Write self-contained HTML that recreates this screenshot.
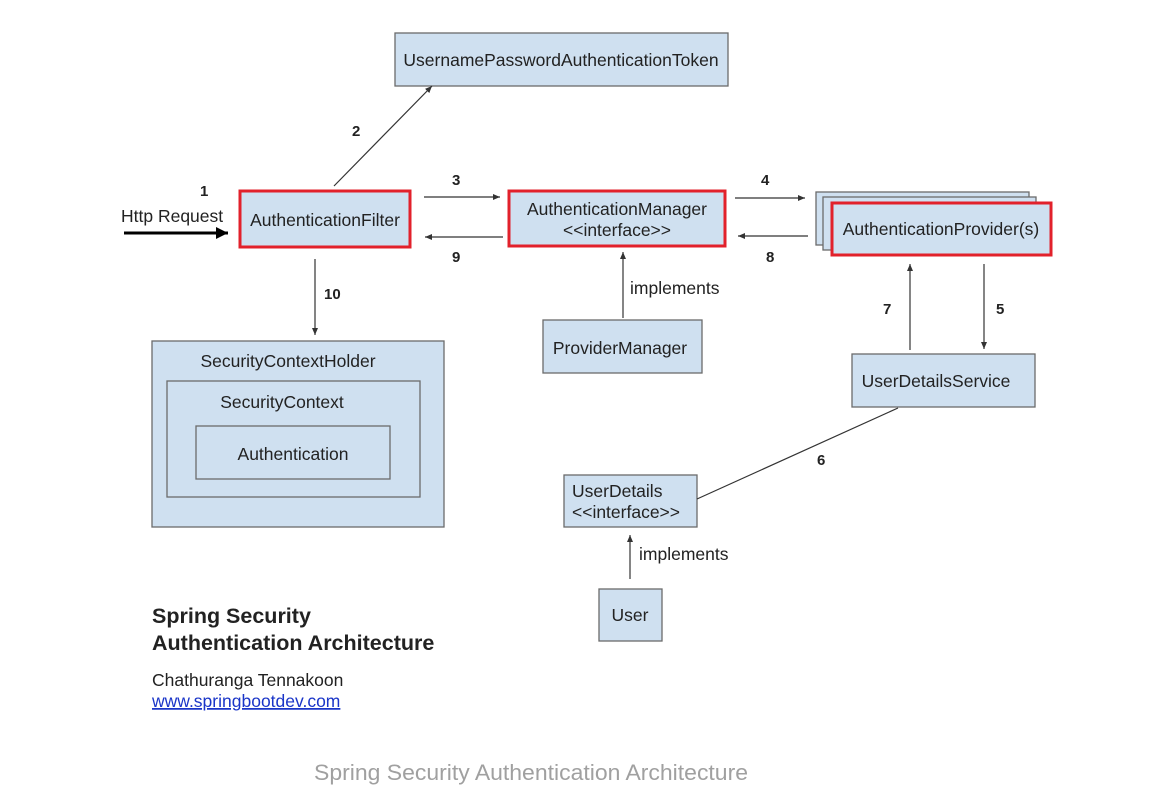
<!DOCTYPE html>
<html><head><meta charset="utf-8"><style>
html,body{margin:0;padding:0;background:#fff;}
svg{display:block;font-family:"Liberation Sans",Arial,sans-serif;}
.b{fill:#cfe0f0;stroke:#6b6b6b;stroke-width:1.3}
.r{fill:#cfe0f0;stroke:#e2212b;stroke-width:3}
.t{font-size:17.5px;fill:#222}
.n{font-size:15px;font-weight:bold;fill:#222}
.l{stroke:#333;stroke-width:1.2;fill:none}
</style></head><body>
<svg width="1159" height="806" viewBox="0 0 1159 806">
<defs><marker id="a" markerWidth="8" markerHeight="8" refX="7" refY="3" orient="auto" markerUnits="userSpaceOnUse"><path d="M0,0 L7,3 L0,6 z" fill="#333"/></marker>
<marker id="A" markerWidth="14" markerHeight="14" refX="12" refY="6" orient="auto" markerUnits="userSpaceOnUse"><path d="M0,0 L12,6 L0,12 z" fill="#000"/></marker></defs>

<rect class="b" x="395" y="33" width="333" height="53"/>
<text class="t" x="561" y="66" text-anchor="middle">UsernamePasswordAuthenticationToken</text>

<rect class="r" x="240" y="191" width="170" height="56"/>
<text class="t" x="325" y="226" text-anchor="middle">AuthenticationFilter</text>

<rect class="r" x="509" y="191" width="216" height="55"/>
<text class="t" x="617" y="215" text-anchor="middle">AuthenticationManager</text>
<text class="t" x="617" y="236" text-anchor="middle">&lt;&lt;interface&gt;&gt;</text>

<rect class="b" x="816" y="192" width="213" height="53"/>
<rect class="b" x="823" y="197" width="213" height="53"/>
<rect class="r" x="832" y="203" width="219" height="52"/>
<text class="t" x="941" y="235" text-anchor="middle">AuthenticationProvider(s)</text>

<rect class="b" x="543" y="320" width="159" height="53"/>
<text class="t" x="620" y="354" text-anchor="middle">ProviderManager</text>

<rect class="b" x="852" y="354" width="183" height="53"/>
<text class="t" x="936" y="387" text-anchor="middle">UserDetailsService</text>

<rect class="b" x="152" y="341" width="292" height="186"/>
<text class="t" x="288" y="367" text-anchor="middle">SecurityContextHolder</text>
<rect class="b" x="167" y="381" width="253" height="116"/>
<text class="t" x="282" y="408" text-anchor="middle">SecurityContext</text>
<rect class="b" x="196" y="426" width="194" height="53"/>
<text class="t" x="293" y="460" text-anchor="middle">Authentication</text>

<rect class="b" x="564" y="475" width="133" height="52"/>
<text class="t" x="572" y="497">UserDetails</text>
<text class="t" x="572" y="518">&lt;&lt;interface&gt;&gt;</text>

<rect class="b" x="599" y="589" width="63" height="52"/>
<text class="t" x="630" y="621" text-anchor="middle">User</text>

<line x1="124" y1="233" x2="228" y2="233" stroke="#000" stroke-width="3" marker-end="url(#A)"/>
<text class="t" x="121" y="222">Http Request</text>
<text class="n" x="200" y="196">1</text>
<line class="l" x1="334" y1="186" x2="432" y2="86" marker-end="url(#a)"/>
<text class="n" x="352" y="136">2</text>
<line class="l" x1="424" y1="197" x2="500" y2="197" marker-end="url(#a)"/>
<text class="n" x="452" y="185">3</text>
<line class="l" x1="503" y1="237" x2="425" y2="237" marker-end="url(#a)"/>
<text class="n" x="452" y="262">9</text>
<line class="l" x1="735" y1="198" x2="805" y2="198" marker-end="url(#a)"/>
<text class="n" x="761" y="185">4</text>
<line class="l" x1="808" y1="236" x2="738" y2="236" marker-end="url(#a)"/>
<text class="n" x="766" y="262">8</text>
<line class="l" x1="315" y1="259" x2="315" y2="335" marker-end="url(#a)"/>
<text class="n" x="324" y="299">10</text>
<line class="l" x1="623" y1="318" x2="623" y2="252" marker-end="url(#a)"/>
<text class="t" x="630" y="294">implements</text>
<line class="l" x1="910" y1="350" x2="910" y2="264" marker-end="url(#a)"/>
<text class="n" x="883" y="314">7</text>
<line class="l" x1="984" y1="264" x2="984" y2="349" marker-end="url(#a)"/>
<text class="n" x="996" y="314">5</text>
<line class="l" x1="697" y1="499" x2="898" y2="408"/>
<text class="n" x="817" y="465">6</text>
<line class="l" x1="630" y1="579" x2="630" y2="535" marker-end="url(#a)"/>
<text class="t" x="639" y="560">implements</text>

<text x="152" y="623" font-size="21.5" font-weight="bold" fill="#222">Spring Security</text>
<text x="152" y="650" font-size="21.5" font-weight="bold" fill="#222">Authentication Architecture</text>
<text x="152" y="686" font-size="17.5" fill="#222">Chathuranga Tennakoon</text>
<text x="152" y="707" font-size="17.5" fill="#1a35c8" text-decoration="underline">www.springbootdev.com</text>

<text x="531" y="780" font-size="22" fill="#a0a0a0" text-anchor="middle" textLength="434" lengthAdjust="spacingAndGlyphs">Spring Security Authentication Architecture</text>
</svg>
</body></html>
